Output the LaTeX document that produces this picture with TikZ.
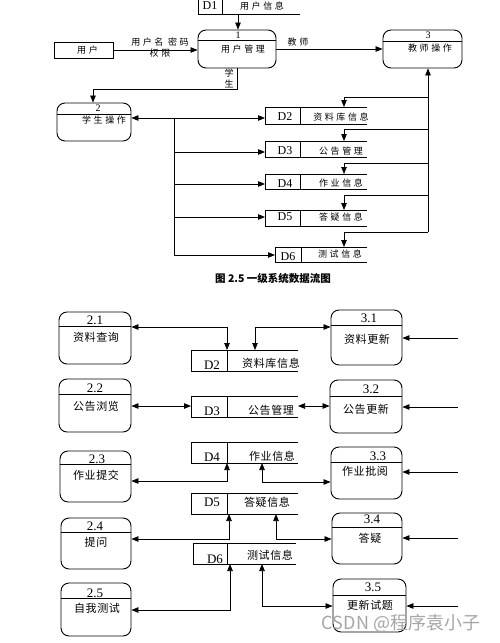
\documentclass[tikz,border=0pt]{standalone}
\usepackage{fontspec}
\setmainfont{Liberation Serif}
\newfontfamily\cjk{Noto Sans CJK SC}
\newfontfamily\cjksp[LetterSpace=28]{Noto Sans CJK SC}
\newfontfamily\cjkbp[LetterSpace=6]{Noto Sans CJK SC}
\usetikzlibrary{arrows.meta,calc}
\newcommand\fs[1]{\fontsize{#1}{#1}\selectfont}
\tikzset{
  proc/.style={draw, rounded corners=8pt, inner sep=0pt, line width=0.9pt},
  store/.style={draw=none, inner sep=0pt, outer sep=0pt},
  boxline/.style={line width=0.9pt},
  thinline/.style={line width=0.75pt},
  tip/.tip={Triangle[length=7pt,width=5.5pt]},
  flow/.style={line width=0.75pt, -tip},
  bflow/.style={line width=0.75pt, tip-tip},
  cnt/.style={font=\cjksp\fs{9}, inner sep=0pt},
  cnb/.style={font=\cjkbp\fs{11}, inner sep=0pt},
  dlt/.style={font=\fs{12}, inner sep=0pt},
  dlb/.style={font=\fs{13}, inner sep=0pt},
  numt/.style={font=\fs{10}, inner sep=0pt},
  numb/.style={font=\fs{13}, inner sep=0pt},
  ubox/.style={draw, line width=0.9pt, inner sep=0pt, minimum width=59pt, minimum height=16pt, font=\cjksp\fs{9}}
}
\newcommand\procbox[6]{%
  \node[proc, minimum width={(#4-#2)*1pt}, minimum height={(#5-#3)*1pt}] (#1) at ({(#2+#4)/2},{(#3+#5)/2}) {};
  \draw[boxline] (#1.west |- 0,#6) -- (#1.east |- 0,#6);}
\newcommand\storebox[6]{%
  \node[store, minimum width={(#4-#2)*1pt}, minimum height={(#5-#3)*1pt}] (#1) at ({(#2+#4)/2},{(#3+#5)/2}) {};
  \draw[boxline] (#1.north east) -- (#1.north west) -- (#1.south west) -- (#1.south east);
  \draw[boxline] (#6,#3) -- (#6,#5);}
\begin{document}
\begin{tikzpicture}[x=1pt,y=-1pt]
\useasboundingbox[fill=white] (0,0) rectangle (500,643);
% ---------- top diagram ----------
\node[ubox] (user) at (83.5,50) {\hspace*{8pt}用户};
\storebox{d1}{198}{-8}{300}{14}{222}
\node[dlt] (d1l) at (210,6) {D1};
\node[cnt] (d1x) at (262,6) {用户信息};
\procbox{p1}{198}{30}{276}{68}{40}
\node[numt] (p1n) at (238,35) {1};
\node[cnt] (p1x) at (243,49) {用户管理};
\procbox{p3}{383}{30}{462}{68}{41}
\node[numt] (p3n) at (428,35) {3};
\node[cnt] (p3x) at (430,48) {教师操作};
\procbox{p2}{57}{103}{131}{141}{114}
\node[numt] (p2n) at (98,108) {2};
\node[cnt] (p2x) at (104,120) {学生操作};

\storebox{d2t}{265}{107}{367}{124}{300}
\node[dlt] (d2tl) at (285,117) {D2};
\node[cnt] (d2tx) at (341,117) {资料库信息};
\storebox{d3t}{265}{141}{367}{157}{300}
\node[dlt] (d3tl) at (285,151) {D3};
\node[cnt] (d3tx) at (341,151) {公告管理};
\storebox{d4t}{265}{174}{367}{189}{300}
\node[dlt] (d4tl) at (285,184) {D4};
\node[cnt] (d4tx) at (341,183) {作业信息};
\storebox{d5t}{265}{210}{367}{226}{300}
\node[dlt] (d5tl) at (285,217) {D5};
\node[cnt] (d5tx) at (341,217) {答疑信息};
\storebox{d6t}{275}{247}{367}{262}{301}
\node[dlt] (d6tl) at (288,257) {D6};
\node[cnt] (d6tx) at (340,254) {测试信息};

\draw[flow] (user.east) -- (p1.west |- user.east);
\node[cnt] (lbl1) at (160,42) {用户名 密码};
\node[cnt] (lbl2) at (160,53) {权限};
\draw[flow] (d1.south -| 238,0) -- (p1.north -| 238,0);
\draw[flow] (p1.east |- 0,49) -- (p3.west |- 0,49);
\node[cnt] (lbl3) at (298,42) {教师};
\draw[flow] (p1.south -| 237,0) -- (237,89) -| (p2.north -| 93,0);
\node[cnt] (lbl4) at (229,73) {学};
\node[cnt] (lbl5) at (229,84) {生};

\coordinate (bus2) at (174,118);
\coordinate (bus2e) at (174,255);
\draw[bflow] (p2.east |- bus2) -- (d2t.west |- bus2);
\draw[thinline] (bus2) -- (bus2e);
\draw[flow] (bus2 |- 0,152) -- (d3t.west |- 0,152);
\draw[flow] (bus2 |- 0,184) -- (d4t.west |- 0,184);
\draw[flow] (bus2 |- 0,217) -- (d5t.west |- 0,217);
\draw[flow] (bus2e) -- (d6t.west |- bus2e);

\coordinate (bus3) at (428,232);
\draw[flow] (bus3) -- (p3.south -| bus3);
\draw[flow] (bus3 |- 0,97) -| (d2t.north -| 344,0);
\draw[flow] (bus3 |- 0,129) -| (d3t.north -| 344,0);
\draw[flow] (bus3 |- 0,163) -| (d4t.north -| 344,0);
\draw[flow] (bus3 |- 0,195) -| (d5t.north -| 344,0);
\draw[flow] (bus3) -| (d6t.north -| 344,0);

\node[font=\cjk\bfseries\fs{10.5}, inner sep=0pt] (cap) at (273,278) {图 2.5 一级系统数据流图};

% ---------- bottom diagram ----------
\procbox{p21}{59}{312}{131}{364}{326}
\node[numb] (p21n) at (95,320) {2.1};
\node[cnb] (p21x) at (96,337) {资料查询};
\procbox{p22}{59}{379}{131}{432}{394}
\node[numb] (p22n) at (95,388) {2.2};
\node[cnb] (p22x) at (96,406) {公告浏览};
\procbox{p23}{60}{451}{131}{502}{464}
\node[numb] (p23n) at (97,459) {2.3};
\node[cnb] (p23x) at (96,475) {作业提交};
\procbox{p24}{61}{518}{131}{569}{532}
\node[numb] (p24n) at (95,526) {2.4};
\node[cnb] (p24x) at (96,542) {提问};
\procbox{p25}{61}{583}{131}{636}{598}
\node[numb] (p25n) at (95,593) {2.5};
\node[cnb] (p25x) at (97,608) {自我测试};

\procbox{p31}{331}{310}{402}{365}{325}
\node[numb] (p31n) at (369,318) {3.1};
\node[cnb] (p31x) at (367,339) {资料更新};
\procbox{p32}{330}{380}{402}{433}{396}
\node[numb] (p32n) at (371,389) {3.2};
\node[cnb] (p32x) at (366,409) {公告更新};
\procbox{p33}{331}{447}{402}{499}{462}
\node[numb] (p33n) at (378,456) {3.3};
\node[cnb] (p33x) at (365,471) {作业批阅};
\procbox{p34}{332}{513}{402}{564}{527}
\node[numb] (p34n) at (372,519) {3.4};
\node[cnb] (p34x) at (370,538) {答疑};
\procbox{p35}{333}{579}{406}{632}{595}
\node[numb] (p35n) at (373,587) {3.5};
\node[cnb] (p35x) at (370,605) {更新试题};

\storebox{d2}{191}{350}{298}{371}{227}
\node[dlb] (d2l) at (212,365) {D2};
\node[cnb] (d2x) at (271,363) {资料库信息};
\storebox{d3}{191}{396}{298}{417}{227}
\node[dlb] (d3l) at (212,411) {D3};
\node[cnb] (d3x) at (271,410) {公告管理};
\storebox{d4}{191}{442}{298}{463}{227}
\node[dlb] (d4l) at (212,457) {D4};
\node[cnb] (d4x) at (272,456) {作业信息};
\storebox{d5}{191}{493}{298}{514}{227}
\node[dlb] (d5l) at (212,502) {D5};
\node[cnb] (d5x) at (267,502) {答疑信息};
\storebox{d6}{193}{543}{296}{564}{227}
\node[dlb] (d6l) at (215,559) {D6};
\node[cnb] (d6x) at (270,555) {测试信息};

\draw[bflow] (p21.east |- 0,327) -| (d2.north -| 227,0);
\draw[bflow] (p31.west |- 0,327) -| (d2.north -| 255,0);
\draw[bflow] (p22.east |- 0,406) -- (d3.west |- 0,406);
\draw[bflow] (d3.east |- 0,406) -- (p32.west |- 0,406);
\draw[bflow] (p23.east |- 0,481) -| (d4.south -| 227,0);
\draw[bflow] (p33.west |- 0,482) -| (d4.south -| 262,0);
\draw[bflow] (p24.east |- 0,539) -| (d5.south -| 229,0);
\draw[bflow] (p34.west |- 0,539) -| (d5.south -| 276,0);
\draw[bflow] (p25.east |- 0,610) -| (d6.south -| 230,0);
\draw[bflow] (p35.west |- 0,606) -| (d6.south -| 262,0);

\coordinate (in31) at (458,338);
\coordinate (in32) at (458,407);
\coordinate (in33) at (458,472);
\coordinate (in34) at (458,538);
\coordinate (in35) at (458,606);
\draw[flow] (in31) -- (p31.east |- in31);
\draw[flow] (in32) -- (p32.east |- in32);
\draw[flow] (in33) -- (p33.east |- in33);
\draw[flow] (in34) -- (p34.east |- in34);
\draw[flow] (in35) -- (p35.east |- in35);

\node[font=\cjk\fs{18}, text=black!35, inner sep=0pt] (wm) at (401,623) {CSDN @程序袁小子};
\end{tikzpicture}
\end{document}
